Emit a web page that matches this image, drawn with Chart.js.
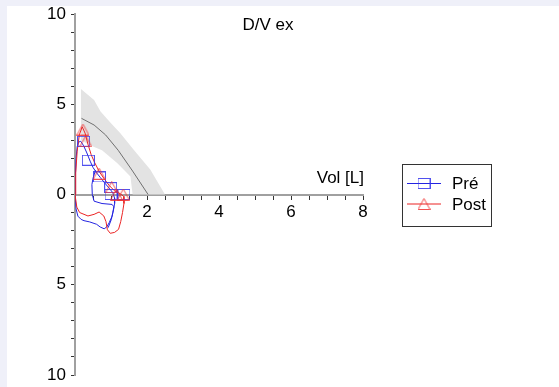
<!DOCTYPE html>
<html>
<head>
<meta charset="utf-8">
<script src="https://cdn.jsdelivr.net/npm/chart.js"></script>
<style>
  html, body { margin: 0; padding: 0; background: #eff0f9; }
  body { width: 559px; height: 387px; position: relative; overflow: hidden; }
  #wrap { position: absolute; left: 7px; top: 6px; width: 552px; height: 381px; background: #fff; }
</style>
</head>
<body>
<div id="wrap"><canvas id="myChart" width="552" height="381"></canvas></div>
<script>
// textos
var chartTitle = 'D/V ex';
var axisTitle = 'Vol [L]';
var serieNames = ['Pré', 'Post'];

// Pré (azul) - laço principal
var preVol  = [0, 0.01, 0.03, 0.06, 0.1, 0.16, 0.24, 0.33, 0.42, 0.5, 0.6, 0.7, 0.82, 0.95, 1.05, 1.1, 1.1, 1.07, 1.03, 0.95, 0.88, 0.81, 0.7, 0.6, 0.41, 0.25, 0.17, 0.08, 0.03, 0];
var preFlow = [0, 1.0, 2.0, 2.65, 2.9, 2.95, 2.7, 2.3, 1.85, 1.5, 1.2, 0.95, 0.65, 0.35, 0.1, -0.2, -0.5, -0.85, -1.2, -1.56, -1.8, -1.9, -1.8, -1.65, -1.52, -1.45, -1.38, -1.2, -0.8, 0];
// Pré - segundo traçado
var preVol2  = [0.57, 0.5, 0.47, 0.48, 0.53, 0.75, 1.03, 1.08, 1.05, 1.01, 0.92];
var preFlow2 = [1.35, 0.9, 0.55, 0, -0.37, -0.5, -0.55, -0.68, -1.0, -1.38, -1.84];
var preMarkVol  = [0.24, 0.37, 0.68, 0.99, 1.0, 1.36];
var preMarkFlow = [2.95, 1.9, 0.97, 0.38, 0.0, 0.0];

// Post (vermelho)
var postVol  = [0, 0.02, 0.06, 0.12, 0.2, 0.28, 0.35, 0.45, 0.55, 0.68, 0.8, 0.95, 1.1, 1.25, 1.35, 1.36, 1.32, 1.27, 1.21, 1.1, 0.98, 0.9, 0.86, 0.8, 0.67, 0.53, 0.36, 0.13, 0.05, 0];
var postFlow = [0, 1.2, 2.4, 3.3, 3.75, 3.4, 2.85, 2.2, 1.75, 1.25, 0.9, 0.5, 0.2, 0.05, -0.1, -0.5, -1.0, -1.5, -1.93, -2.1, -2.15, -1.95, -1.5, -1.19, -0.97, -1.1, -1.19, -1.0, -0.7, 0];
var postMarkVol  = [0.22, 0.3, 0.67, 1.02, 1.15, 1.34];
var postMarkFlow = [3.6, 2.95, 1.15, 0.4, 0.0, 0.0];

// referência (linha cinza e faixa)
var refVol  = [0.18, 0.53, 0.85, 1.2, 1.6, 2.03];
var refFlow = [4.22, 3.85, 3.3, 2.45, 1.3, 0];
var bandVol  = [0.165, 0.53, 0.71, 1.0, 1.26, 1.63, 2.09, 2.5, 1.6, 1.54, 1.17, 0.75, 0.45, 0.165];
var bandFlow = [5.84, 5.23, 4.6, 3.95, 3.4, 2.48, 1.38, 0, 0, 1.0, 1.75, 2.45, 2.7, 3.0];

var fonte = '"Liberation Sans", Arial, sans-serif';

function pontos(xs, ys) {
    return xs.map(function (x, i) { return { x: x, y: ys[i] }; });
}

// marcadores
function quadrado(cor) {
    var c = document.createElement('canvas');
    c.width = 13; c.height = 11;
    var g = c.getContext('2d');
    g.strokeStyle = cor; g.lineWidth = 1;
    g.strokeRect(0.5, 0.5, 12, 10);
    return c;
}
function triangulo(cor) {
    var c = document.createElement('canvas');
    c.width = 13; c.height = 12;
    var g = c.getContext('2d');
    g.strokeStyle = cor; g.lineWidth = 1;
    g.beginPath();
    g.moveTo(6.5, 0.5); g.lineTo(12.5, 11.5); g.lineTo(0.5, 11.5); g.closePath();
    g.stroke();
    return c;
}
var azul = 'rgb(35,35,225)';
var vermelho = 'rgb(235,35,35)';
var quad = quadrado('rgba(50,50,235,0.85)');
var tri = triangulo('rgba(240,50,50,0.85)');

// titulo, eixo e legenda
var extras = {
    id: 'extras',
    afterDraw: function (chart) {
        var ctx = chart.ctx;
        var y0 = chart.scales.y.getPixelForValue(0);
        ctx.save();
        ctx.font = '17px ' + fonte;
        ctx.fillStyle = '#000';
        ctx.textBaseline = 'middle';
        ctx.textAlign = 'center';
        ctx.fillText(chartTitle, 261, 19.5);
        ctx.textAlign = 'right';
        ctx.fillText(axisTitle, chart.scales.x.right + 1, y0 - 16);

        // caixa da legenda
        ctx.strokeStyle = '#333';
        ctx.lineWidth = 1;
        ctx.strokeRect(395.5, 158.5, 89, 62);
        var linhas = [[azul, quad, 177.5], [vermelho, tri, 198]];
        linhas.forEach(function (l, i) {
            ctx.strokeStyle = l[0];
            ctx.beginPath();
            ctx.moveTo(400, l[2]); ctx.lineTo(434, l[2]);
            ctx.stroke();
            ctx.drawImage(l[1], 417 - l[1].width / 2, l[2] - l[1].height / 2);
            ctx.textAlign = 'left';
            ctx.fillStyle = '#000';
            ctx.fillText(serieNames[i], 445, l[2] + 1);
        });
        ctx.restore();
    }
};

const data = {
    datasets: [
        {
            data: pontos(bandVol, bandFlow),
            showLine: true, fill: 'shape',
            backgroundColor: '#e3e3e3', borderColor: 'rgba(0,0,0,0)', borderWidth: 0,
            pointRadius: 0, order: 10
        },
        {
            data: pontos(refVol, refFlow),
            showLine: true, borderColor: '#707070', borderWidth: 1,
            pointRadius: 0, order: 9
        },
        {
            data: pontos(preVol, preFlow),
            showLine: true, borderColor: azul, borderWidth: 1,
            pointRadius: 0, order: 5
        },
        {
            data: pontos(preVol2, preFlow2),
            showLine: true, borderColor: azul, borderWidth: 1,
            pointRadius: 0, order: 5
        },
        {
            data: pontos(postVol, postFlow),
            showLine: true, borderColor: vermelho, borderWidth: 1,
            pointRadius: 0, order: 4
        },
        {
            data: pontos(preMarkVol, preMarkFlow),
            showLine: false, pointStyle: quad, pointRadius: 5, order: 3
        },
        {
            data: pontos(postMarkVol, postMarkFlow),
            showLine: false, pointStyle: tri, pointRadius: 5, order: 2
        }
    ]
};

const config = {
    type: 'scatter',
    data,
    plugins: [extras],
    options: {
        responsive: false,
        animation: false,
        events: [],
        layout: { padding: { left: 0, top: 8, right: 196, bottom: 12 } },
        plugins: {
            legend: { display: false },
            tooltip: { enabled: false },
            title: { display: false }
        },
        scales: {
            x: {
                type: 'linear', min: 0, max: 8,
                position: { y: 0 },
                ticks: {
                    stepSize: 0.5, autoSkip: false, maxRotation: 0, padding: 4,
                    color: '#000', font: { family: fonte, size: 17 },
                    callback: function (v) { return (v > 0 && v % 2 === 0) ? String(v) : ''; }
                },
                grid: { drawOnChartArea: false, tickLength: 4, tickColor: '#333', tickWidth: 1 },
                border: { color: '#a0a0a0', width: 2 }
            },
            y: {
                type: 'linear', min: -10, max: 10,
                position: 'left',
                afterFit: function (s) {
                    s.width = 68;
                    s.paddingTop = 0;
                    s.paddingBottom = 0;
                },
                ticks: {
                    stepSize: 1, autoSkip: false, padding: 5,
                    color: '#000', font: { family: fonte, size: 17, lineHeight: 1 },
                    callback: function (v) { return v % 5 === 0 ? String(Math.abs(v)) : ''; }
                },
                grid: { drawOnChartArea: false, tickLength: 4, tickColor: '#333', tickWidth: 1 },
                border: { color: '#a0a0a0', width: 2 }
            }
        }
    }
};

var myChart = new Chart(document.getElementById('myChart'), config);
</script>
</body>
</html>
